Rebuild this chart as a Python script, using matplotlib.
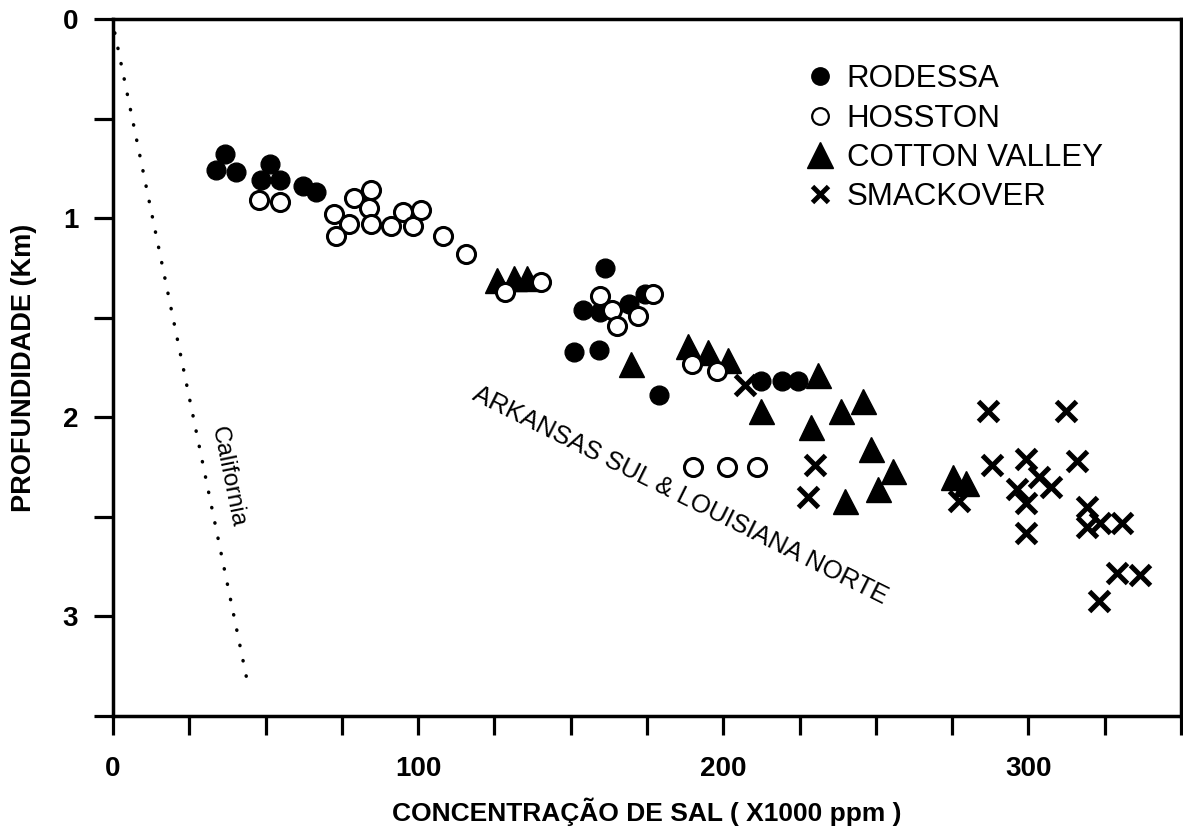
import matplotlib
matplotlib.use("Agg")
import matplotlib.pyplot as plt
from matplotlib.lines import Line2D
import numpy as np

plt.rcParams["font.family"] = ["Liberation Sans", "DejaVu Sans"]

# salt concentration (x1000 ppm) and depth (km) per formation
rodessa_x = [36.6, 33.9, 40.4, 51.3, 48.6, 54.6, 62.2, 66.6, 161.3, 153.9, 159.7,
             169.0, 174.4, 151.0, 159.2, 178.8, 212.5, 219.1, 224.5]
rodessa_y = [0.68, 0.76, 0.77, 0.73, 0.81, 0.81, 0.84, 0.87, 1.25, 1.46, 1.47,
             1.43, 1.38, 1.67, 1.66, 1.89, 1.82, 1.82, 1.82]

hosston_x = [48.0, 54.6, 79.1, 84.5, 72.5, 77.5, 73.1, 84.0, 84.5, 91.1, 94.9,
             98.2, 100.9, 108.0, 115.6, 128.6, 140.4, 159.7, 163.5, 165.1, 172.2,
             177.1, 189.6, 197.8, 190.2, 201.1, 210.9]
hosston_y = [0.91, 0.92, 0.90, 0.86, 0.98, 1.03, 1.09, 0.95, 1.03, 1.04, 0.97,
             1.04, 0.96, 1.09, 1.18, 1.37, 1.32, 1.39, 1.46, 1.54, 1.49,
             1.38, 1.73, 1.77, 2.25, 2.25, 2.25]

cotton_x = [126.0, 131.4, 135.7, 169.8, 188.6, 195.1, 201.6, 231.0, 212.5, 228.9,
            238.7, 245.8, 248.5, 255.6, 239.8, 250.7, 275.2, 279.6]
cotton_y = [1.31, 1.30, 1.30, 1.73, 1.64, 1.67, 1.71, 1.79, 1.97, 2.05,
            1.97, 1.92, 2.16, 2.27, 2.42, 2.36, 2.30, 2.33]

smackover_x = [207.0, 229.9, 227.8, 277.3, 286.6, 312.2, 288.2, 299.1, 316.0, 303.5,
               307.3, 296.4, 299.1, 299.1, 319.3, 319.3, 323.6, 330.7, 329.1, 336.6, 323.1]
smackover_y = [1.84, 2.24, 2.40, 2.42, 1.97, 1.97, 2.24, 2.21, 2.22, 2.30,
               2.35, 2.36, 2.43, 2.58, 2.45, 2.55, 2.53, 2.53, 2.78, 2.79, 2.92]

california_x = [0.6, 43.8]
california_y = [0.07, 3.31]

x_ticks = np.arange(0, 351, 25)
x_labels = ["0", "", "", "", "100", "", "", "", "200", "", "", "", "300", "", ""]
y_ticks = np.arange(0, 3.51, 0.5)
y_labels = ["0", "", "1", "", "2", "", "3", ""]

fig = plt.figure(figsize=(11.83, 8.32), dpi=100)
ax = fig.add_axes([0.0955, 0.1394, 0.9028, 0.8378])

ax.plot(california_x, california_y, color="black", lw=2.5,
        linestyle=(0, (0.1, 4.4)), dash_capstyle="round")

ax.plot(smackover_x, smackover_y, "x", color="black", ms=15, mew=3.6, ls="none")
ax.plot(rodessa_x, rodessa_y, "o", color="black", mfc="black", ms=13.5, ls="none")
ax.plot(cotton_x, cotton_y, "^", color="black", mfc="black", ms=18, ls="none")
ax.plot(hosston_x, hosston_y, "o", color="black", mfc="white", ms=13, mew=2.2, ls="none")

ax.text(37.7, 2.30, "California", rotation=-78.5, rotation_mode="anchor",
        ha="center", va="center", fontsize=17.5)
ax.text(185.8, 2.39, "ARKANSAS SUL & LOUISIANA NORTE", rotation=-26.5,
        rotation_mode="anchor", ha="center", va="center", fontsize=18.5)

handles = [
    Line2D([], [], marker="o", color="black", mfc="black", ms=12.5, ls="none"),
    Line2D([], [], marker="o", color="black", mfc="white", ms=12, mew=1.6, ls="none"),
    Line2D([], [], marker="^", color="black", mfc="black", ms=19, ls="none"),
    Line2D([], [], marker="x", color="black", ms=12, mew=3.5, ls="none"),
]
ax.legend(handles, ["RODESSA", "HOSSTON", "COTTON VALLEY", "SMACKOVER"],
          loc="upper left", bbox_to_anchor=(0.647, 0.935), frameon=False,
          fontsize=22.5, handlelength=1.0, handletextpad=0.37, labelspacing=0.3,
          borderpad=0, borderaxespad=0)

ax.set_xlim(0, 350)
ax.set_ylim(3.5, 0)
ax.set_xticks(x_ticks)
ax.set_xticklabels(x_labels)
ax.set_yticks(y_ticks)
ax.set_yticklabels(y_labels)

for sp in ax.spines.values():
    sp.set_linewidth(2.5)
ax.tick_params(direction="out", length=14, width=2.3, labelsize=20)
ax.tick_params(axis="x", pad=15)
ax.tick_params(axis="y", pad=11)
for lab in ax.get_xticklabels() + ax.get_yticklabels():
    lab.set_fontweight("bold")

ax.set_xlabel("CONCENTRAÇÃO DE SAL ( X1000 ppm )", fontsize=19, fontweight="bold")
ax.set_ylabel("PROFUNDIDADE (Km)", fontsize=19.5, fontweight="bold")
ax.xaxis.set_label_coords(0.5, -0.117)
ax.yaxis.set_label_coords(-0.071, 0.5)

fig.savefig("out.png", dpi=100)
